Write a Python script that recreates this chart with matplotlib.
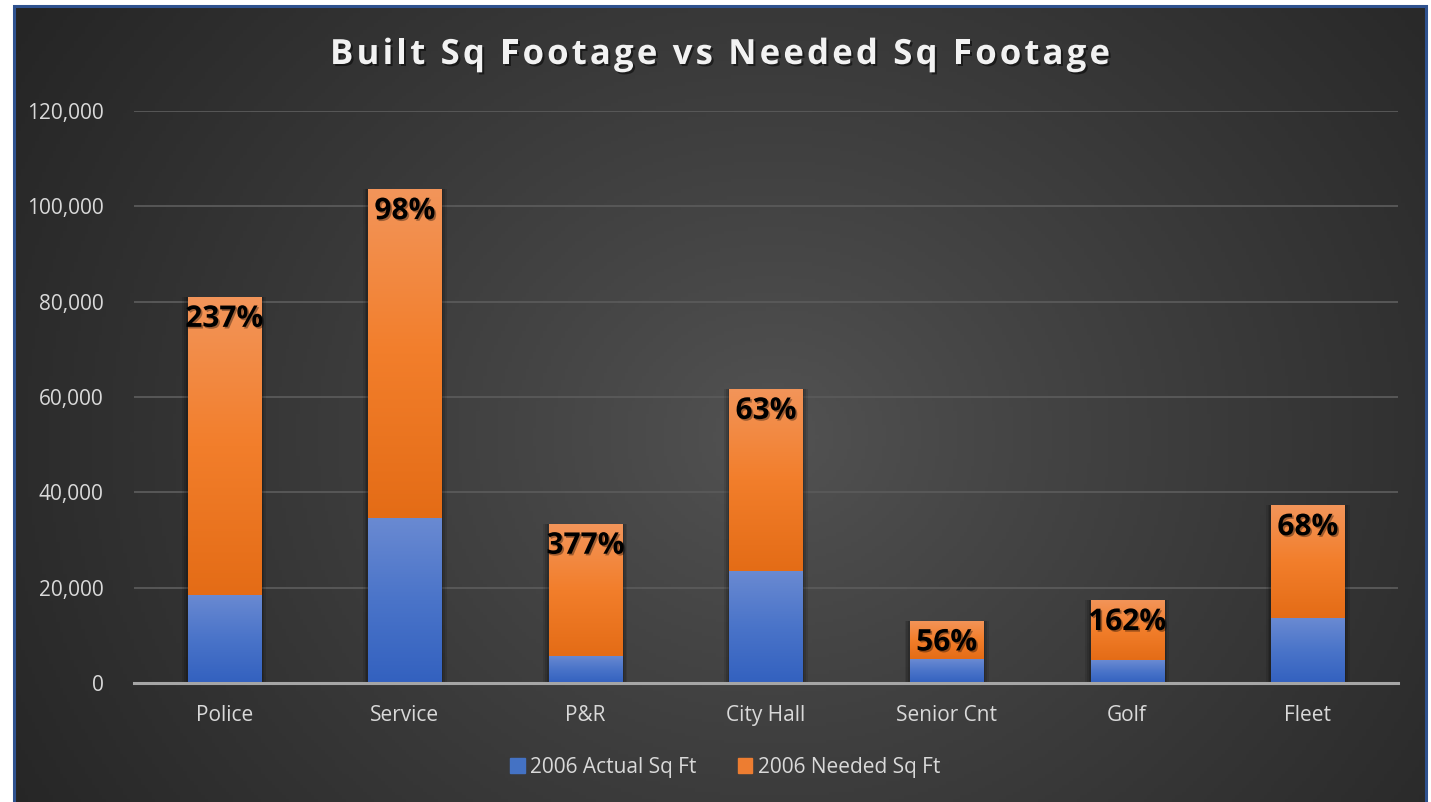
import numpy as np
import matplotlib
matplotlib.use("Agg")
import matplotlib.pyplot as plt
from matplotlib.patches import Rectangle
from matplotlib.colors import LinearSegmentedColormap
import matplotlib.patheffects as pe

categories = ["Police", "Service", "P&R", "City Hall", "Senior Cnt", "Golf", "Fleet"]
actual = [18500, 34700, 5750, 23500, 5000, 4800, 13600]
needed = [62500, 68900, 27650, 38200, 8100, 12600, 23700]
pct_labels = ["237%", "98%", "377%", "63%", "56%", "162%", "68%"]
yticks = [0, 20000, 40000, 60000, 80000, 100000, 120000]
title = "Built Sq Footage vs Needed Sq Footage"
series_names = ["2006 Actual Sq Ft", "2006 Needed Sq Ft"]

W, H = 1431, 802
fig = plt.figure(figsize=(W / 100, H / 100), dpi=100)
fig.patch.set_facecolor("white")

# background with radial gradient inside the blue frame
x0, x1 = 14 / W, 1426 / W
y0, y1 = 0.0, 1 - 6 / H
bg = fig.add_axes([x0, y0, x1 - x0, y1 - y0])
bg.set_axis_off()
nx, ny = 400, 230
xx, yy = np.meshgrid(np.linspace(0, 1412, nx), np.linspace(0, 796, ny))
cx, cy = 760, 430
r = np.sqrt(((xx - cx)) ** 2 + ((yy - cy) * 1.15) ** 2) / 900
r = np.clip(r, 0, 1)
c_in, c_out = 0x53 / 255, 0x25 / 255
val = c_in + (c_out - c_in) * r ** 0.9
img = np.dstack([val, val, val])
bg.imshow(img, extent=[0, 1, 0, 1], aspect="auto", origin="upper")
bg.set_xlim(0, 1)
bg.set_ylim(0, 1)
fig.add_artist(Rectangle((x0, -0.01), x1 - x0, y1 + 0.01, transform=fig.transFigure,
                         fill=False, edgecolor="#2f528f", lw=2.2))

ax = fig.add_axes([134 / W, 1 - 683 / H, 1264 / W, 572 / H])
ax.patch.set_alpha(0)
ax.set_ylim(0, 120000)
ax.set_xlim(-0.5, len(categories) - 0.5)
for s in ["top", "right", "left"]:
    ax.spines[s].set_visible(False)
ax.spines["bottom"].set_color("#a6a6a6")
ax.spines["bottom"].set_linewidth(2.2)
ax.spines["bottom"].set_zorder(5)
ax.set_yticks(yticks)
ax.set_yticklabels([f"{v:,}" for v in yticks])
ax.yaxis.grid(True, color="#5a5a5a", lw=1.3)
ax.set_axisbelow(True)
ax.tick_params(axis="both", length=0, colors="#d9d9d9", labelsize=15)
ax.tick_params(axis="y", pad=22)
ax.tick_params(axis="x", pad=16)

xpos = np.arange(len(categories))
bw = 0.405
blue_cmap = LinearSegmentedColormap.from_list("b", ["#3361bf", "#4a74c9", "#6a8ad2"])
orange_cmap = LinearSegmentedColormap.from_list("o", ["#e46c16", "#f27e2b", "#f3955a"])

b1 = ax.bar(xpos, actual, bw, color="#4472c4", label=series_names[0], zorder=3)
b2 = ax.bar(xpos, needed, bw, bottom=actual, color="#ed7d31", label=series_names[1], zorder=3)

grad = np.linspace(0, 1, 256).reshape(-1, 1)
for bars, cmap in [(b1, blue_cmap), (b2, orange_cmap)]:
    for p in bars:
        x, y = p.get_x(), p.get_y()
        w, h = p.get_width(), p.get_height()
        for k, a in [(0.03, 0.10), (0.02, 0.12), (0.01, 0.15)]:
            ax.add_patch(Rectangle((x - k, y), w + 2 * k, h, color="black", alpha=a,
                                   zorder=2, lw=0))
        im = ax.imshow(grad, cmap=cmap, extent=[x, x + w, y, y + h], origin="lower",
                       aspect="auto", zorder=3.5)
        im.set_clip_path(p)
ax.set_xlim(-0.5, len(categories) - 0.5)
ax.set_ylim(0, 120000)
ax.set_xticks(xpos)
ax.set_xticklabels(categories)
for lab in ax.get_xticklabels() + ax.get_yticklabels():
    lab.set_fontfamily("Open Sans")

for i, t in enumerate(pct_labels):
    top = actual[i] + needed[i]
    ax.annotate(t, (xpos[i], top), xytext=(0, -5), textcoords="offset points",
                ha="center", va="top", fontsize=21.5, fontweight="bold",
                fontfamily="Open Sans", color="black", zorder=6,
                path_effects=[pe.withSimplePatchShadow(offset=(1.2, -1.2), shadow_rgbFace="black", alpha=0.35)])

# letter-spaced title
renderer = fig.canvas.get_renderer()
tprops = dict(fontsize=25, fontweight="bold", fontfamily="Open Sans", color="#f2f2f2",
              va="center", ha="left",
              path_effects=[pe.withSimplePatchShadow(offset=(1.5, -1.5), shadow_rgbFace="black", alpha=0.5)])
widths = []
for ch in title:
    if ch == " ":
        tt = fig.text(0, 0, "a a", **tprops)
        wa = tt.get_window_extent(renderer).width
        tt.remove()
        tt = fig.text(0, 0, "aa", **tprops)
        wb = tt.get_window_extent(renderer).width
        tt.remove()
        widths.append(wa - wb)
    else:
        tt = fig.text(0, 0, ch, **tprops)
        widths.append(tt.get_window_extent(renderer).width)
        tt.remove()
target = 1110 - 330
spacing = (target - sum(widths)) / (len(title) - 1)
xcur = 720 - target / 2
for ch, wch in zip(title, widths):
    if ch != " ":
        fig.text(xcur / W, 1 - 55 / H, ch, **tprops)
    xcur += wch + spacing

leg = fig.legend(handles=[Rectangle((0, 0), 1, 1, color="#4472c4"),
                          Rectangle((0, 0), 1, 1, color="#ed7d31")],
                 labels=series_names, loc="center", bbox_to_anchor=(725 / W, 1 - 767 / H),
                 ncol=2, frameon=False, handlelength=0.7, handleheight=0.7,
                 handletextpad=0.25, columnspacing=2.0, labelcolor="#d9d9d9",
                 prop={"family": "Open Sans", "size": 15})

fig.savefig("out.png", dpi=100, facecolor=fig.get_facecolor())
